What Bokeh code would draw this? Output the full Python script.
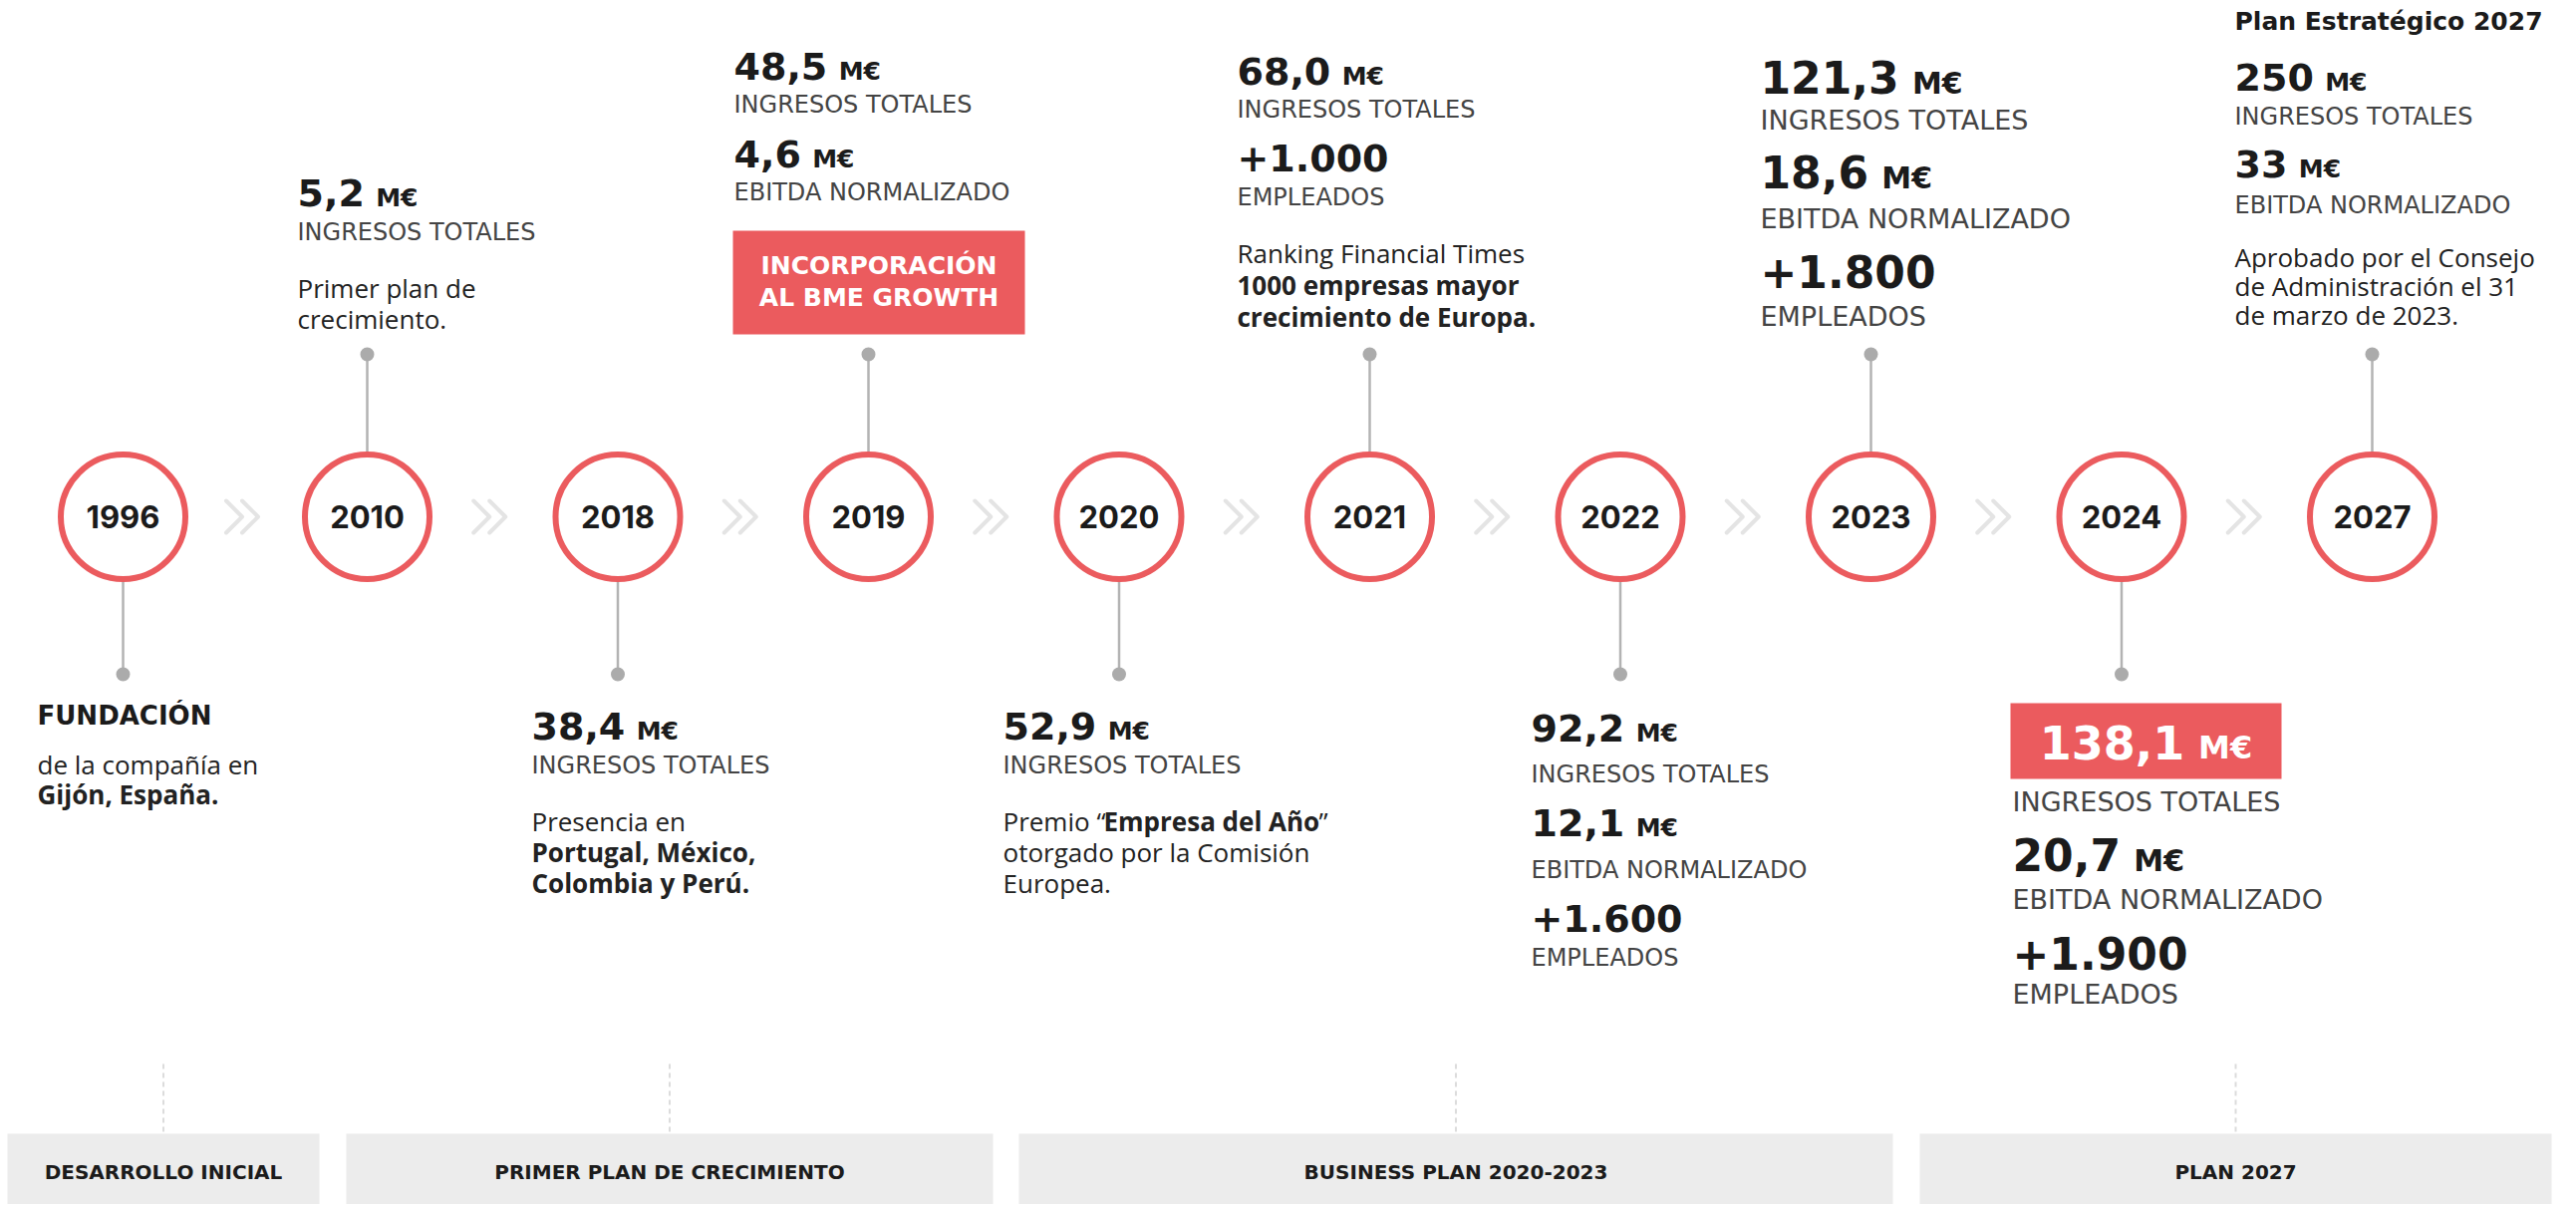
from bokeh.plotting import figure
from bokeh.models import Range1d
from bokeh.embed import file_html
from bokeh.resources import INLINE
from bokeh.core.properties import value

# ---------------- data ----------------
years = ["1996", "2010", "2018", "2019", "2020", "2021", "2022", "2023", "2024", "2027"]
revenue_meur = [None, 5.2, 38.4, 48.5, 52.9, 68.0, 92.2, 121.3, 138.1, 250]
ebitda_meur = [None, None, None, 4.6, None, None, 12.1, 18.6, 20.7, 33]
employees = [None, None, None, None, None, 1000, 1600, 1800, 1900, None]
target_year = "2027"
headings = {"1996": "FUNDACIÓN", "2027": "Plan Estratégico 2027"}
notes = {
    "1996": [[("de la compañía en", False)], [("Gijón, España.", True)]],
    "2010": [[("Primer plan de", False)], [("crecimiento.", False)]],
    "2018": [[("Presencia en", False)], [("Portugal, México,", True)], [("Colombia y Perú.", True)]],
    "2020": [[("Premio “", False), ("Empresa del Año", True), ("”", False)],
             [("otorgado por la Comisión", False)], [("Europea.", False)]],
    "2021": [[("Ranking Financial Times", False)], [("1000 empresas mayor", True)],
             [("crecimiento de Europa.", True)]],
    "2027": [[("Aprobado por el Consejo", False)], [("de Administración el 31", False)],
             [("de marzo de 2023.", False)]],
}
milestones = {"2019": ["INCORPORACIÓN", "AL BME GROWTH"]}
metric_labels = {"rev": "INGRESOS TOTALES", "ebitda": "EBITDA NORMALIZADO", "emp": "EMPLEADOS"}
periods = ["DESARROLLO INICIAL", "PRIMER PLAN DE CRECIMIENTO", "BUSINESS PLAN 2020-2023", "PLAN 2027"]

# ---------------- styles / layout ----------------
RED = "#EB5B5E"
DARK = "#1b1b1b"
LABC = "#444444"
GRAYL = "#b3b3b3"
NUMFONT = "DejaVu Sans"
LABFONT = "DejaVu Sans ExtraLight, DejaVu Sans"
BODYFONT = "Open Sans"
YEARFONT = "Inter"

W, H = 2584, 1208
cy = 518
R = 62.5
cx = [123] + [368 + 251.5 * (i - 1) for i in range(1, len(years))]

layout = {
    "1996": dict(x=37, head=727, notes=776, lh=30),
    "2010": dict(x=298, rev=(207, 242), notes=298, lh=31),
    "2018": dict(x=533, rev=(742, 777), notes=833, lh=31),
    "2019": dict(x=736, rev=(80, 114), ebitda=(168, 202), box=(735, 1028, 231, 335), box_lines=(275, 307)),
    "2020": dict(x=1006, rev=(742, 777), notes=833, lh=31, seg_off=[0, 101, 317]),
    "2021": dict(x=1241, rev=(85, 119), emp=(172, 207), notes=263, lh=32),
    "2022": dict(x=1536, rev=(744, 786), ebitda=(839, 882), emp=(935, 970)),
    "2023": dict(x=1766, rev=(94, 130), ebitda=(189, 229), emp=(289, 327), big=True),
    "2024": dict(x=2019, rev=(762, 814), ebitda=(874, 912), emp=(973, 1007), big=True,
                 revbox=(2017, 2289, 705, 781)),
    "2027": dict(x=2242, head=30, rev=(91, 126), ebitda=(178, 215), notes=267, lh=29),
}
band_edges = [(7, 320), (347, 996), (1022, 1899), (1926, 2560)]

p = figure(width=W, height=H, x_range=Range1d(0, W), y_range=Range1d(H, 0),
           output_backend="svg", toolbar_location=None, min_border=0,
           x_axis_type=None, y_axis_type=None)
p.grid.visible = False
p.outline_line_color = None
p.background_fill_color = "white"
p.border_fill_color = "white"

DJB = {",": 0.380, ".": 0.380, "+": 0.838, " ": 0.348}
BASE_FIX = 0.38  # shift so that y is the visual baseline


def wid(s, size):
    return sum(0.696 if ch.isdigit() else DJB.get(ch, 0.7) for ch in s) * size


def txt(x, y, s, size, font, bold=False, color=DARK, align="left"):
    p.text(x=[x], y=[y - BASE_FIX * size], text=[s], text_font=value(font),
           text_font_size=f"{size}px", text_font_style="bold" if bold else "normal",
           text_color=color, text_align=align, text_baseline="alphabetic")


def number(x, y, s, size, usize, color=DARK, unit=True, center=False):
    wn = wid(s, size)
    gap = 0.3 * size
    wu = (0.995 + 0.696) * usize if unit else 0
    if center:
        x = x - (wn + (gap + wu if unit else 0)) / 2
    txt(x, y, s, size, NUMFONT, True, color)
    if unit:
        txt(x + wn + gap, y, "M€", usize, NUMFONT, True, color)


def fmt_meur(v, target):
    return f"{v:.0f}" if target else f"{v:.1f}".replace(".", ",")


def fmt_emp(n):
    return "+" + f"{n:,}".replace(",", ".")


# ---------------- bottom period bands ----------------
p.quad(left=[a for a, b in band_edges], right=[b for a, b in band_edges],
       top=[1137] * 4, bottom=[H] * 4, fill_color="#ececec", line_color=None)
mids = [(a + b) / 2 for a, b in band_edges]
p.segment(x0=mids, y0=[1067] * 4, x1=mids, y1=[1137] * 4, line_color="#dcdcdc",
          line_width=2, line_dash="5 4")
for m, lab in zip(mids, periods):
    txt(m, 1183, lab, 20, NUMFONT, True, DARK, align="center")

# ---------------- chevrons ----------------
xs, ys = [], []
for i in range(len(years) - 1):
    mx = (cx[i] + cx[i + 1]) / 2 - 3
    for off in (-16, 0):
        xs.append([mx + off, mx + off + 16, mx + off])
        ys.append([cy - 16, cy, cy + 16])
p.multi_line(xs=xs, ys=ys, line_color="#e4e4e4", line_width=4, line_cap="round", line_join="round")

# ---------------- connectors ----------------
up = [i % 2 == 1 for i in range(len(years))]
y_end = [355 if u else 676 for u in up]
y_start = [cy - R if u else cy + R for u in up]
p.segment(x0=cx, y0=y_start, x1=cx, y1=y_end, line_color=GRAYL, line_width=2.5)
p.scatter(x=cx, y=y_end, size=14, fill_color="#ababab", line_color=None)

# ---------------- circles ----------------
p.circle(x=cx, y=[cy] * len(years), radius=R, fill_color="white", line_color=RED, line_width=6)
for x, yr in zip(cx, years):
    txt(x, 530, yr, 31, YEARFONT, True, DARK, align="center")

# ---------------- text blocks ----------------
for i, yr in enumerate(years):
    L = layout[yr]
    x = L["x"]
    big = L.get("big", False)
    nsz, usz, lsz = (44, 30, 27) if big else (38, 25, 24)
    target = yr == target_year
    if "head" in L:
        txt(x, L["head"], headings[yr], 26 if yr == "1996" else 25, NUMFONT, True, DARK)
    if "rev" in L and revenue_meur[i] is not None:
        yb, yl = L["rev"]
        s = fmt_meur(revenue_meur[i], target)
        if "revbox" in L:
            l, r, t, b = L["revbox"]
            p.quad(left=[l], right=[r], top=[t], bottom=[b], fill_color=RED, line_color=None)
            number((l + r) / 2, yb, s, 46, 32, "white", center=True)
        else:
            number(x, yb, s, nsz, usz)
        txt(x, yl, metric_labels["rev"], lsz, LABFONT, False, LABC)
    if "ebitda" in L and ebitda_meur[i] is not None:
        yb, yl = L["ebitda"]
        number(x, yb, fmt_meur(ebitda_meur[i], target), nsz, usz)
        txt(x, yl, metric_labels["ebitda"], lsz, LABFONT, False, LABC)
    if "emp" in L and employees[i] is not None:
        yb, yl = L["emp"]
        number(x, yb, fmt_emp(employees[i]), nsz, usz, unit=False)
        txt(x, yl, metric_labels["emp"], lsz, LABFONT, False, LABC)
    if "box" in L:
        l, r, t, b = L["box"]
        p.quad(left=[l], right=[r], top=[t], bottom=[b], fill_color=RED, line_color=None)
        for line, yy in zip(milestones[yr], L["box_lines"]):
            txt((l + r) / 2, yy, line, 25, NUMFONT, True, "white", align="center")
    if yr in notes:
        for k, line in enumerate(notes[yr]):
            yy = L["notes"] + k * L["lh"]
            offs = L.get("seg_off", [0, 0, 0]) if len(line) > 1 else [0]
            for (seg, bold), off in zip(line, offs):
                txt(x + off, yy, seg, 26, BODYFONT, bold, "#222222")

open("out.html", "w").write(file_html(p, INLINE))
